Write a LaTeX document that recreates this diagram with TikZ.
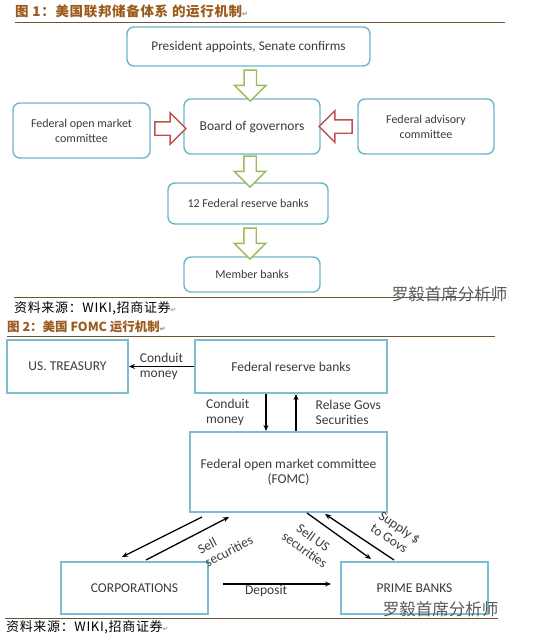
\documentclass[tikz,border=0pt]{standalone}
\usepackage{fontspec}
\setmainfont{Carlito}
\newfontfamily\cjk{Noto Sans CJK SC}
\newfontfamily\cjkwide[LetterSpace=5]{Noto Sans CJK SC}
\newfontfamily\markfont{DejaVu Sans}
\usetikzlibrary{arrows.meta, positioning, calc, shapes.arrows}

\definecolor{boxblue}{HTML}{6FB4CA}
\definecolor{frameblue}{HTML}{7BBDD1}
\definecolor{olivgreen}{HTML}{9BBB59}
\definecolor{fedred}{HTML}{C0504D}
\definecolor{titlebrown}{HTML}{9C5A1C}
\definecolor{rulebrown}{HTML}{6E5434}
\definecolor{txt}{HTML}{3A3A3A}

\newcommand{\pmark}{{\markfont\fontsize{7}{7}\selectfont\color{gray}↵}}

\tikzset{
  topbox/.style={draw=boxblue, line width=1.4pt, rounded corners=7pt, text=txt,
    align=center, inner sep=0pt, font=\fontsize{12}{15}\selectfont},
  fedbox/.style={draw=frameblue, line width=2pt, text=txt, align=center,
    inner sep=0pt, font=\fontsize{13.5}{15}\selectfont},
  blockarr/.style={shape=single arrow, fill=white, line width=1.4pt, inner xsep=0pt,
    inner ysep=5.5pt, minimum height=31pt, single arrow head extend=9.5pt},
  downarr/.style={blockarr, draw=olivgreen, rotate=-90},
  pusharr/.style={blockarr, draw=fedred, inner ysep=6pt, single arrow head extend=9pt},
  flow/.style={-{Stealth[length=6pt,width=5pt]}, line width=1.3pt},
  revflow/.style={{Stealth[length=6pt,width=5pt]}-, line width=1.3pt},
  lbl/.style={font=\fontsize{13.5}{15}\selectfont, text=txt, align=left, inner sep=1pt},
  rule/.style={draw=rulebrown, line width=0.9pt},
  ttl/.style={font=\cjk\bfseries\fontsize{12.5}{13}\selectfont, text=titlebrown,
    anchor=west, inner sep=0pt},
  src/.style={font=\cjkwide\fontsize{13}{13}\selectfont, anchor=west, inner sep=0pt},
  wmark/.style={font=\cjk\fontsize{16.5}{17}\selectfont, text=black!65, inner sep=0pt}
}

\begin{document}
\begin{tikzpicture}[x=1pt, y=-1pt]
\useasboundingbox (0,0) rectangle (537,634);

% figure 1: the Fed system
\node[ttl, font=\cjkwide\bfseries\fontsize{13.5}{14}\selectfont] (t1) at (15,11) {图 1：美国联邦储备体系 的运行机制\pmark};
\draw[rule] (15,22) -- (505,22);

\node[topbox, minimum width=243pt, minimum height=39pt, font=\fontsize{13.3}{15}\selectfont] (pres) at (248.5,46.5) {President appoints, Senate confirms};
\node[topbox, minimum width=136pt, minimum height=55pt, font=\fontsize{13.5}{15}\selectfont] (board) at (252,126.5) {Board of governors};
\node[topbox, minimum width=137pt, minimum height=55pt] (fomcl) at (81.5,130.5) {Federal open market\\committee};
\node[topbox, minimum width=136pt, minimum height=55pt] (fac) at (426,126.5) {Federal advisory\\committee};
\node[topbox, minimum width=160pt, minimum height=41pt] (frb12) at (248,203.5) {12 Federal reserve banks};
\node[topbox, minimum width=136pt, minimum height=35pt] (member) at (252,274.5) {Member banks};

\node[downarr] (g1) at ($(pres.south)!0.5!(board.north)$) {};
\node[downarr] (g2) at ($(board.south)!0.5!(frb12.north)$) {};
\node[downarr] (g3) at ($(frb12.south)!0.5!(member.north)$) {};
\node[pusharr] (r1) at ($(fomcl.east)!0.5!(board.west)$) {};
\node[pusharr, rotate=180, minimum height=33pt] (r2) at ($(board.east)!0.5!(fac.west)$) {};

\draw[rule] (14,297) -- (497,297);
\node[wmark] (wm1) at (449.5,294) {罗毅首席分析师};
\node[src] (s1) at (14,308.5) {资料来源：WIKI,招商证券\pmark};

% figure 2: how the FOMC works
\node[ttl] (t2) at (7,327) {图 2：美国 FOMC 运行机制\pmark};
\draw[rule] (7,336) -- (495,336);

\node[fedbox, minimum width=121pt, minimum height=53pt] (ust) at (67.5,366.5) {US. TREASURY};
\node[fedbox, minimum width=192pt, minimum height=53pt] (frb) at (291,366.5) {Federal reserve banks};
\node[fedbox, minimum width=197pt, minimum height=80pt] (fomc) at (288.5,472) {Federal open market committee\\(FOMC)};
\node[fedbox, minimum width=147pt, minimum height=52pt] (corp) at (134.5,588) {CORPORATIONS};
\node[fedbox, minimum width=147pt, minimum height=52pt] (prime) at (414.5,588) {PRIME BANKS};

\coordinate (cm) at ($(frb.south)+(-25,0)$);
\coordinate (rg) at ($(frb.south)+(5,0)$);
\coordinate (a1) at ($(fomc.south west)+(13,4)$);
\coordinate (a2) at ($(corp.north west)+(62,-4)$);
\coordinate (b1) at ($(corp.north west)+(86,-1)$);
\coordinate (b2) at ($(fomc.south west)+(40,4)$);
\coordinate (c1) at ($(fomc.south)+(18.5,0)$);
\coordinate (c2) at ($(prime.north west)+(31,-2)$);
\coordinate (d1) at ($(fomc.south)+(36.5,1)$);
\coordinate (d2) at ($(prime.north west)+(54,-1)$);
\coordinate (e1) at ($(corp.east)+(14,-4)$);
\coordinate (e2) at ($(prime.west)+(-9,-4)$);

\path[flow] (frb) edge node[lbl] {Conduit\\money} (ust);
\draw[flow] (cm) -- node[lbl, left=15pt] {Conduit\\money} (cm |- fomc.north);
\draw[flow] (rg |- fomc.north) -- node[lbl, right=18pt] {Relase Govs\\Securities} (rg);

\draw[flow] (a1) -- (a2);
\draw[flow] (b1) -- node[lbl, sloped, below=9pt, pos=0.83] {Sell\\securities} (b2);
\draw[flow] (c1) -- node[lbl, align=center, sloped, below=10pt, pos=0.25] {Sell US\\securities} (c2);
\draw[revflow] (d1) -- node[lbl, sloped, above=9pt, pos=0.84] {Supply \$\\to Govs} (d2);
\draw[flow] (e1) -- node[lbl, below, pos=0.4] {Deposit} (e2);

\draw[rule] (5,618) -- (498,618);
\node[wmark] (wm2) at (440.5,609) {罗毅首席分析师};
\node[src] (s2) at (6,627) {资料来源：WIKI,招商证券\pmark};
\end{tikzpicture}
\end{document}
